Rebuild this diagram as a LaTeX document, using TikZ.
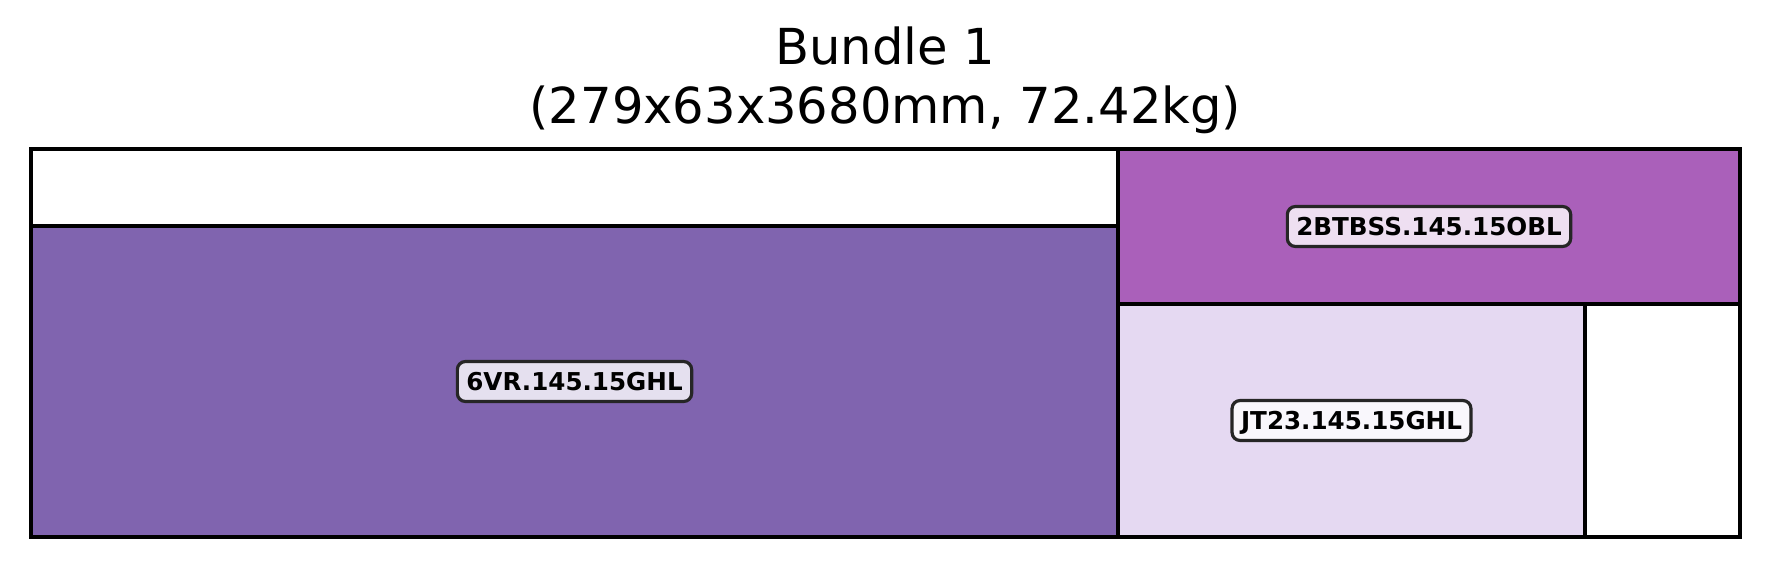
\documentclass[tikz,border=0pt]{standalone}
\usepackage{fontspec}
\setmainfont{DejaVu Sans}
\definecolor{pieceA}{RGB}{128,100,175}
\definecolor{pieceB}{RGB}{170,96,186}
\definecolor{pieceC}{RGB}{229,217,242}
\begin{document}
\begin{tikzpicture}[x=0.5pt,y=-0.5pt,
  piece/.style={draw=black,line width=2pt},
  frame/.style={draw=black,line width=1.75pt},
  tag/.style={draw=black!85,line width=1.6pt,fill=white,fill opacity=0.8,
    text opacity=1,draw opacity=1,rounded corners=4pt,inner xsep=4.5pt,inner ysep=5.5pt,
    font=\bfseries\fontsize{12.3}{14}\selectfont,text height=8.97pt,text depth=0pt},
  titletext/.style={font=\fontsize{24.8}{29.8}\selectfont,anchor=base}]
\useasboundingbox (0,0) rectangle (1770,567);
\node[titletext] (title1) at (885.5,64.5) {Bundle 1};
\node[titletext] (title2) at (885.5,124) {(279x63x3680mm, 72.42kg)};
\draw[piece,fill=pieceA] (31,226) rectangle (1118,537);
\draw[piece,fill=pieceB] (1118,149) rectangle (1740,304);
\draw[piece,fill=pieceC] (1118,304) rectangle (1585,537);
\draw[frame] (31,149) rectangle (1740,537);
\node[tag] (labA) at (574.5,381.5) {6VR.145.15GHL};
\node[tag] (labB) at (1429,226.5) {2BTBSS.145.15OBL};
\node[tag] (labC) at (1351.5,420.5) {JT23.145.15GHL};
\end{tikzpicture}
\end{document}
